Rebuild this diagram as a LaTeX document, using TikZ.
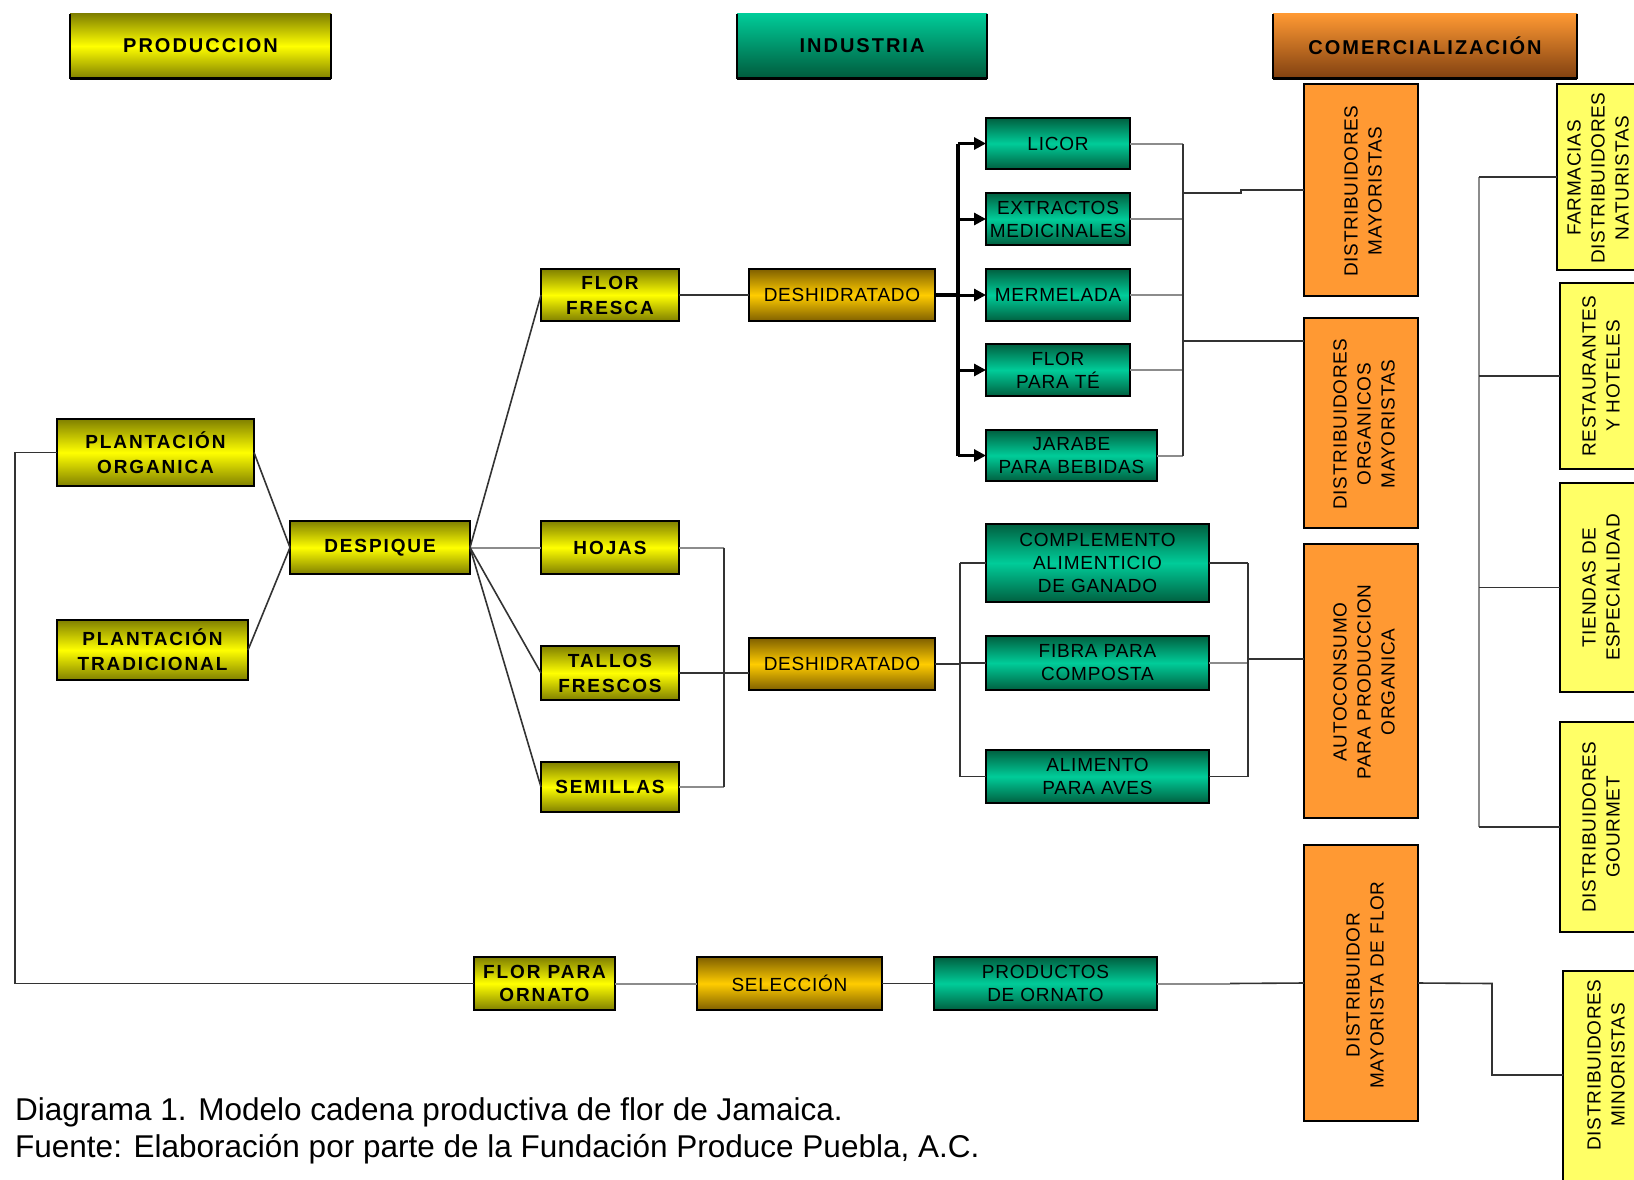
\documentclass[tikz,border=0pt]{standalone}
\usepackage{fontspec}
\setmainfont{Liberation Sans}
\newfontfamily\lsbold[LetterSpace=10]{Liberation Sans}
\newfontfamily\lsreg[LetterSpace=4]{Liberation Sans}
\usetikzlibrary{arrows.meta,calc}
\definecolor{ydark}{RGB}{128,128,0}
\definecolor{ybright}{RGB}{255,255,0}
\definecolor{gdark}{RGB}{128,96,0}
\definecolor{gbright}{RGB}{255,204,0}
\definecolor{tdark}{RGB}{0,96,64}
\definecolor{tbright}{RGB}{0,204,153}
\definecolor{orangebox}{RGB}{255,153,51}
\definecolor{ylight}{RGB}{255,255,102}
\definecolor{hcomtop}{RGB}{255,153,51}
\definecolor{hcombot}{RGB}{128,64,16}
\definecolor{hindbot}{RGB}{0,90,60}
\begin{document}
\begin{tikzpicture}[x=1pt,y=-1pt,
  base/.style={draw=black, line width=1.5pt, inner sep=0pt, outer sep=0pt, align=center, text=black},
  ybox/.style={base, top color=ydark, bottom color=ydark, middle color=ybright, font=\lsbold\bfseries\fontsize{19}{25}\selectfont},
  gbox/.style={base, top color=gdark, bottom color=gdark, middle color=gbright, font=\lsreg\fontsize{19}{23}\selectfont},
  tbox/.style={base, top color=tdark, bottom color=tdark, middle color=tbright, font=\lsreg\fontsize{19}{23}\selectfont},
  obox/.style={base, fill=orangebox},
  rbox/.style={base, fill=ylight},
  vtext/.style={rotate=90, align=center, inner sep=0pt, text=black, font=\lsreg\fontsize{19}{24}\selectfont},
  hdr/.style={inner sep=0pt, outer sep=0pt, align=center, text=black, font=\lsbold\bfseries\fontsize{20}{24}\selectfont},
  conn/.style={draw=black!80, line width=1.6pt},
  gconn/.style={draw=black!45, line width=2pt},
  thickbus/.style={draw=black, line width=3.5pt},
  arr/.style={draw=black, line width=3pt, -{Triangle[length=12pt,width=12pt]}},
]
\useasboundingbox (0,0) rectangle (1634,1179);
\fill[white] (0,0) rectangle (1634,1179);
\clip (0,0) rectangle (1634,1179);

% ---------- headers ----------
\node[hdr, top color=ydark, bottom color=ydark, middle color=ybright, minimum width=261pt, minimum height=65pt] (hprod) at (200.5,46) {PRODUCCION};
\node[hdr, top color=tbright, bottom color=hindbot, minimum width=250pt, minimum height=65pt] (hind) at (862,46) {INDUSTRIA};
\node[hdr, top color=hcomtop, bottom color=hcombot, minimum width=304pt, minimum height=65pt] (hcom) at (1425,46) {COMERCIALIZACIÓN};
\foreach \h in {hprod,hind,hcom}{
  \draw[line width=1.2pt] (\h.north west) -- (\h.south west);
  \draw[line width=1.2pt] (\h.north east) -- (\h.south east);
  \draw[line width=3pt] (\h.south west) -- (\h.south east);
}

% ---------- production nodes ----------
\node[ybox, minimum width=197pt, minimum height=67pt] (porg) at (155.5,452.5) {PLANTACIÓN\\ORGANICA};
\node[ybox, minimum width=191pt, minimum height=60pt] (ptrad) at (152.5,650) {PLANTACIÓN\\TRADICIONAL};
\node[ybox, minimum width=180pt, minimum height=53pt] (desp) at (380,547.5) {DESPIQUE};
\node[ybox, minimum width=138pt, minimum height=52pt] (ffresca) at (610,295) {FLOR\\FRESCA};
\node[ybox, minimum width=138pt, minimum height=53pt] (hojas) at (610,547.5) {HOJAS};
\node[ybox, minimum width=138pt, minimum height=54pt] (tallos) at (610,673) {TALLOS\\FRESCOS};
\node[ybox, minimum width=138pt, minimum height=50pt] (semillas) at (610,787) {SEMILLAS};
\node[ybox, minimum width=141pt, minimum height=53pt, font=\lsbold\bfseries\fontsize{19}{23}\selectfont] (fornato) at (544.5,983.5) {FLOR PARA\\ORNATO};

% ---------- processing ----------
\node[gbox, minimum width=186pt, minimum height=52pt] (desh1) at (842,295) {DESHIDRATADO};
\node[gbox, minimum width=186pt, minimum height=52pt] (desh2) at (842,664) {DESHIDRATADO};
\node[gbox, minimum width=185pt, minimum height=53pt] (selec) at (789.5,983.5) {SELECCIÓN};

% ---------- industry products ----------
\node[tbox, minimum width=144pt, minimum height=51pt] (licor) at (1058,143.5) {LICOR};
\node[tbox, minimum width=144pt, minimum height=52pt] (extr) at (1058,219) {EXTRACTOS\\MEDICINALES};
\node[tbox, minimum width=144pt, minimum height=52pt] (merm) at (1058,295) {MERMELADA};
\node[tbox, minimum width=144pt, minimum height=52pt] (flort) at (1058,370) {FLOR\\PARA TÉ};
\node[tbox, minimum width=171pt, minimum height=51pt] (jarabe) at (1071.5,455.5) {JARABE\\PARA BEBIDAS};
\node[tbox, minimum width=223pt, minimum height=78pt] (compl) at (1097.5,563) {COMPLEMENTO\\ALIMENTICIO\\DE GANADO};
\node[tbox, minimum width=223pt, minimum height=54pt] (fibra) at (1097.5,663) {FIBRA PARA\\COMPOSTA};
\node[tbox, minimum width=223pt, minimum height=53pt] (alim) at (1097.5,776.5) {ALIMENTO\\PARA AVES};
\node[tbox, minimum width=223pt, minimum height=53pt] (pornato) at (1045.5,983.5) {PRODUCTOS\\DE ORNATO};

% ---------- commercialization (orange) ----------
\node[obox, minimum width=114pt, minimum height=212pt] (dmay) at (1361,190) {};
\node[obox, minimum width=114pt, minimum height=210pt] (dorg) at (1361,423) {};
\node[obox, minimum width=114pt, minimum height=274pt] (auto) at (1361,681) {};
\node[obox, minimum width=114pt, minimum height=276pt] (dflor) at (1361,983) {};
\node[vtext] (dmayt) at (1363,191) {DISTRIBUIDORES\\MAYORISTAS};
\node[vtext] (dorgt) at (1364,424) {DISTRIBUIDORES\\ORGANICOS\\MAYORISTAS};
\node[vtext] (autot) at (1364,682) {AUTOCONSUMO\\PARA PRODUCCION\\ORGANICA};
\node[vtext] (dflort) at (1365,985) {DISTRIBUIDOR\\MAYORISTA DE FLOR};

% ---------- retail (light yellow) ----------
\node[rbox, minimum width=90pt, minimum height=186pt] (farm) at (1602,177) {};
\node[rbox, minimum width=87pt, minimum height=186pt] (rest) at (1603.5,376) {};
\node[rbox, minimum width=87pt, minimum height=209pt] (tiend) at (1603.5,587.5) {};
\node[rbox, minimum width=87pt, minimum height=210pt] (gourm) at (1603.5,827) {};
\node[rbox, minimum width=84pt, minimum height=240pt] (minor) at (1605,1091) {};
\node[vtext] (farmt) at (1598,178) {FARMACIAS\\DISTRIBUIDORES\\NATURISTAS};
\node[vtext] (restt) at (1601,376) {RESTAURANTES\\Y HOTELES};
\node[vtext] (tiendt) at (1601,587.5) {TIENDAS DE\\ESPECIALIDAD};
\node[vtext] (gourmt) at (1601,827) {DISTRIBUIDORES\\GOURMET};
\node[vtext] (minort) at (1606,1065) {DISTRIBUIDORES\\MINORISTAS};

% ---------- connectors ----------
\coordinate (lc1) at (15,452.5);
\coordinate (lc2) at (15,983.5);
\draw[conn] (porg.west) -- (lc1) -- (lc2) -- (fornato.west);
\draw[conn] (porg.east) -- (desp.west);
\draw[conn] (ptrad.east) -- (desp.west);
\draw[conn] (desp.east) -- (ffresca.west);
\draw[gconn] (desp.east) -- (hojas.west);
\draw[conn] (desp.east) -- (tallos.west);
\draw[conn] (desp.east) -- (semillas.west);
\draw[conn] (ffresca.east) -- (desh1.west);

% deshidratado 1 bus with arrows
\coordinate (b1t) at (958,143.5);
\coordinate (b1b) at (958,455.5);
\draw[thickbus] (desh1.east) -- (desh1.east -| b1t);
\draw[thickbus] (b1t) -- (b1b);
\foreach \n in {licor,extr,merm,flort,jarabe}{
  \draw[arr] (\n.west -| b1t) -- (\n.west);
}

% collector to distributors
\coordinate (c1t) at (1183,143.5);
\coordinate (c1b) at (1183,455.5);
\foreach \n in {licor,extr,merm,flort,jarabe}{
  \draw[gconn] (\n.east) -- (\n.east -| c1t);
}
\draw[conn] (c1t) -- (c1b);
\coordinate (c1a) at (1183,193);
\coordinate (c1s) at (1241,193);
\draw[conn] (c1a) -- (c1s) -- (c1s |- dmay.west) -- (dmay.west);
\coordinate (c1c) at (1183,341);
\draw[conn] (c1c) -- (c1c -| dorg.west);

% hojas / tallos / semillas
\coordinate (c2t) at (724,547.5);
\coordinate (c2b) at (724,787);
\draw[gconn] (hojas.east) -- (c2t);
\draw[gconn] (semillas.east) -- (c2b);
\draw[conn] (c2t) -- (c2b);
\draw[conn] (tallos.east) -- (tallos.east -| desh2.west);

% deshidratado 2 bus
\coordinate (b2m) at (960,664);
\draw[conn] (desh2.east) -- (b2m);
\draw[conn] (compl.west -| b2m) -- (alim.west -| b2m);
\foreach \n in {compl,fibra,alim}{
  \draw[conn] (\n.west -| b2m) -- (\n.west);
}
\coordinate (c3t) at (1248,563);
\draw[conn] (compl.east) -- (compl.east -| c3t);
\draw[gconn] (fibra.east) -- (fibra.east -| c3t);
\draw[conn] (alim.east) -- (alim.east -| c3t);
\draw[conn] (compl.east -| c3t) -- (alim.east -| c3t);
\coordinate (c3m) at (1248,659);
\draw[conn] (c3m) -- (c3m -| auto.west);

% ornato row
\draw[gconn] (fornato.east) -- (selec.west);
\draw[conn] (selec.east) -- (pornato.west);
\coordinate (om) at (1230,983.5);
\draw[gconn] (pornato.east) -- (om);
\draw[conn] (om) -- (dflor.west);
\coordinate (dfj1) at (1492,983.5);
\coordinate (dfj2) at (1492,1075);
\draw[conn] (dflor.east) -- (dfj1) -- (dfj2) -- (dfj2 -| minor.west);

% retail bus
\coordinate (rbt) at (1479,177);
\draw[gconn] (farm.west -| rbt) -- (gourm.west -| rbt);
\foreach \n in {farm,rest,tiend,gourm}{
  \draw[conn] (\n.west -| rbt) -- (\n.west);
}

% ---------- caption ----------
\node[anchor=base west, inner sep=0pt, font=\fontsize{31.5}{37}\selectfont] (cap1) at (15,1120) {Diagrama 1. Modelo cadena productiva de flor de Jamaica.};
\node[anchor=base west, inner sep=0pt, font=\fontsize{31.5}{37}\selectfont] (cap2) at (15,1157) {Fuente: Elaboración por parte de la Fundación Produce Puebla, A.C.};
\end{tikzpicture}
\end{document}
